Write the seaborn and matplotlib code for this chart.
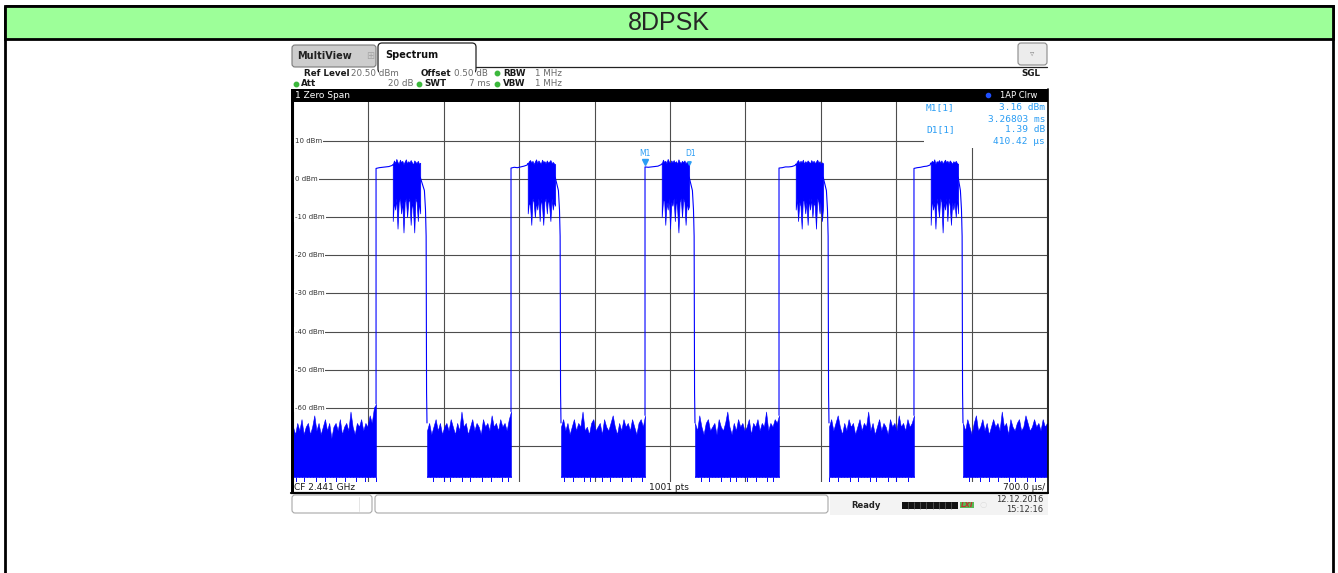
import numpy as np
import pandas as pd
import matplotlib
matplotlib.use('Agg')
import matplotlib.pyplot as plt
from matplotlib.patches import Rectangle, FancyBboxPatch
from matplotlib.ticker import MultipleLocator
import seaborn as sns

sns.set_theme(style='white')
plt.rcParams['font.family'] = ['DejaVu Sans']

W, H = 1338, 573

# zero span sweep, 7 ms, values in dBm
grid_db = [10, 0, -10, -20, -30, -40, -50, -60, -70]

noise_start_ms = [0.0, 1.244, 2.488, 3.732, 4.976, 6.220]
noise_end_ms = [0.771, 2.024, 3.268, 4.512, 5.765, 7.0]
noise_floor_db = -78.2

noise_top = [
    [-65, -67, -64, -66, -63, -67, -65, -64, -67, -65, -62, -66, -64, -67, -65, -63, -66, -64, -68, -65,
     -64, -66, -63, -67, -65, -64, -66, -61, -65, -67, -64, -65, -63, -66, -64, -65, -62, -64, -60, -59],
    [-66, -64, -67, -65, -63, -66, -64, -67, -65, -64, -66, -63, -65, -67, -64, -66, -61, -65, -64, -67,
     -65, -63, -66, -64, -65, -67, -63, -65, -64, -66, -62, -65, -64, -66, -63, -65, -64, -66, -63, -61],
    [-65, -63, -66, -64, -67, -65, -63, -66, -64, -65, -61, -66, -65, -67, -64, -63, -66, -65, -64, -67,
     -63, -65, -66, -64, -62, -65, -67, -64, -66, -63, -65, -64, -66, -63, -65, -67, -64, -63, -65, -62],
    [-64, -66, -62, -65, -67, -64, -63, -66, -65, -64, -67, -63, -65, -66, -64, -61, -65, -67, -64, -66,
     -63, -65, -64, -66, -65, -63, -67, -64, -65, -63, -66, -64, -65, -61, -66, -64, -65, -63, -64, -62],
    [-65, -63, -66, -64, -62, -65, -67, -64, -66, -63, -65, -64, -67, -65, -63, -66, -64, -65, -61, -66,
     -64, -67, -65, -63, -66, -64, -65, -67, -63, -65, -64, -66, -62, -65, -64, -66, -63, -65, -64, -62],
    [-64, -66, -63, -65, -67, -64, -62, -66, -65, -63, -66, -64, -67, -65, -63, -65, -64, -66, -61, -65,
     -64, -67, -63, -65, -66, -64, -63, -66, -65, -62, -64, -66, -65, -63, -65, -64, -66, -63, -65, -64],
]
# short drops of the noise trace below the dense band
noise_low = [
    [-78, -80, -78, -78, -80, -78, -78, -78, -80, -78, -78, -80, -78, -78, -78, -80, -78, -78, -80, -78,
     -78, -78, -80, -78, -78, -80, -78, -78, -78, -80],
    [-78, -78, -80, -78, -78, -78, -80, -78, -80, -78, -78, -78, -80, -78, -78, -80, -78, -78, -78, -80,
     -78, -78, -80, -78, -78, -78, -80, -78, -80, -78],
    [-78, -80, -78, -78, -80, -78, -78, -78, -80, -78, -80, -78, -78, -78, -80, -78, -78, -80, -78, -78,
     -78, -80, -78, -78, -80, -78, -78, -78, -80, -78],
    [-78, -78, -80, -78, -78, -80, -78, -78, -78, -80, -78, -78, -80, -78, -80, -78, -78, -78, -80, -78,
     -78, -80, -78, -78, -78, -80, -78, -80, -78, -78],
    [-80, -78, -78, -80, -78, -78, -78, -80, -78, -78, -80, -78, -78, -78, -80, -78, -80, -78, -78, -78,
     -80, -78, -78, -80, -78, -78, -78, -80, -78, -78],
    [-78, -78, -80, -78, -78, -78, -80, -78, -78, -80, -78, -78, -80, -78, -78, -78, -80, -78, -80, -78,
     -78, -78, -80, -78, -78, -80, -78, -78, -78, -80],
]

# burst: ramp (flat part), then modulated payload, then tail
burst_flat_db = [
    [2.8, 3.0, 3.1, 3.2, 3.3, 3.6],
    [2.9, 3.1, 3.0, 3.2, 3.4, 3.7],
    [3.2, 3.1, 3.2, 3.3, 3.4, 3.8],
    [2.9, 3.0, 3.2, 3.2, 3.3, 3.6],
    [2.8, 3.0, 3.1, 3.3, 3.4, 3.7],
]
mod_top_db = [
    [3.8, 4.9, 4.2, 5.3, 4.5, 4.0, 5.1, 4.4, 4.8, 3.9, 4.6, 5.2, 4.1, 4.7, 4.3, 5.0, 4.4, 3.8, 4.9, 4.5, 4.2, 4.8, 4.0, 4.3],
    [4.1, 4.7, 5.0, 4.3, 4.8, 3.9, 4.6, 5.2, 4.2, 4.9, 4.4, 4.0, 5.1, 4.5, 4.7, 4.1, 4.9, 4.3, 4.6, 5.0, 4.2, 4.5, 4.1, 3.9],
    [4.0, 5.1, 4.5, 4.8, 4.2, 5.3, 4.6, 4.1, 4.9, 4.4, 5.0, 4.3, 4.7, 4.0, 5.2, 4.5, 4.2, 4.8, 4.4, 4.9, 4.1, 4.6, 4.3, 4.0],
    [3.9, 4.6, 5.0, 4.2, 4.8, 4.4, 5.1, 4.0, 4.7, 4.3, 4.9, 4.5, 4.1, 5.0, 4.4, 4.8, 4.2, 4.6, 5.1, 4.3, 4.7, 4.0, 4.4, 4.1],
    [4.2, 4.8, 4.4, 5.2, 4.0, 4.7, 4.5, 5.0, 4.3, 4.9, 4.1, 4.6, 5.1, 4.4, 4.8, 4.2, 4.9, 4.5, 4.0, 4.7, 4.3, 4.8, 4.2, 4.0],
]
mod_bottom_db = [
    [-11, -6, -8, -5, -13, -6, -5, -9, -6, -14, -6, -5, -10, -6, -5, -12, -6, -8, -14, -5, -6, -11, -6, -9],
    [-9, -6, -7, -12, -5, -6, -10, -6, -8, -5, -11, -5, -7, -12, -6, -5, -9, -5, -7, -11, -5, -8, -6, -7],
    [-10, -6, -5, -12, -6, -8, -5, -13, -6, -7, -5, -11, -5, -8, -14, -6, -5, -10, -5, -6, -12, -6, -8, -7],
    [-8, -5, -11, -6, -7, -13, -5, -6, -9, -6, -12, -5, -8, -5, -10, -6, -7, -13, -5, -6, -9, -5, -11, -7],
    [-12, -5, -8, -6, -13, -5, -7, -10, -5, -6, -14, -6, -8, -5, -11, -5, -7, -12, -6, -8, -6, -10, -5, -9],
]
flat_len_ms = 0.15
mod_start_ms = 0.155
mod_end_ms = 0.41
tail_before_fall_ms = [0.024, 0.014, 0.008, 0.004, 0.0]
tail_db = [-3, -8, -15, -56, -64]

m1_t, m1_db = 3.26803, 3.16
d1_dt, d1_ddb = 0.41042, 1.39

trace = '#0000ff'
mcol = '#2a9df4'

fig = plt.figure(figsize=(W / 100, H / 100), dpi=100)
ax = fig.add_axes([293 / W, 1 - 482 / H, 754 / W, 381 / H])
ax.set_facecolor('white')

# noise floor between bursts
for i in range(len(noise_top)):
    tt = np.linspace(noise_start_ms[i], noise_end_ms[i], len(noise_top[i]))
    ax.fill_between(tt, noise_floor_db, noise_top[i], color=trace, lw=0.4, zorder=2)
    tl = np.linspace(noise_start_ms[i], noise_end_ms[i], len(noise_low[i]))
    ax.vlines(tl, noise_floor_db, noise_low[i], color=trace, lw=0.7, zorder=2)

# bursts
rows = []
for k in range(len(burst_flat_db)):
    t0 = noise_end_ms[k]
    t1 = noise_start_ms[k + 1]
    tm = np.linspace(t0 + mod_start_ms, t0 + mod_end_ms, len(mod_top_db[k]))
    ax.fill_between(tm, mod_bottom_db[k], mod_top_db[k], color=trace, lw=0.5, zorder=2)
    pts = [(t0, noise_top[k][-1]), (t0, burst_flat_db[k][0])]
    tf = np.linspace(t0, t0 + flat_len_ms, len(burst_flat_db[k]))
    pts += list(zip(tf, burst_flat_db[k]))
    pts += [(tm[0], mod_top_db[k][0])]
    pts += [(tm[-1], 0.5)]
    pts += [(t1 - dt, v) for dt, v in zip(tail_before_fall_ms, tail_db)]
    for t, v in pts:
        rows.append({'burst': k, 't': t, 'db': v})
df = pd.DataFrame(rows)
sns.lineplot(data=df, x='t', y='db', units='burst', estimator=None, sort=False,
             color=trace, lw=0.8, ax=ax, zorder=3)

ax.set_xlim(0, 7.0)
ax.set_ylim(-79.5, 20.5)
ax.xaxis.set_major_locator(MultipleLocator(0.7))
ax.set_yticks(grid_db)
ax.set_axisbelow(True)
ax.grid(True, color='#4d4d4d', lw=0.8)
ax.tick_params(length=0, labelbottom=False, labelleft=False)
ax.set_xlabel('')
ax.set_ylabel('')
for s in ax.spines.values():
    s.set_visible(False)

for v in grid_db:
    ax.text(0.002, v, f'{v} dBm', transform=ax.get_yaxis_transform(), fontsize=5,
            va='center', ha='left', color='#333333', zorder=1.5,
            bbox=dict(fc='white', ec='none', pad=1.0))

# markers
ax.plot([m1_t], [m1_db + 1.2], marker='v', ms=4, color=mcol, zorder=5)
ax.text(m1_t, m1_db + 2.3, 'M1', fontsize=5.5, ha='center', va='bottom', color=mcol, zorder=5)
ax.plot([m1_t + d1_dt], [m1_db + d1_ddb - 0.2], marker='v', ms=2.5, color=mcol, zorder=5)
ax.text(m1_t + d1_dt + 0.01, m1_db + 2.3, 'D1', fontsize=5.5, ha='center', va='bottom',
        color=mcol, zorder=5)

# overlay in screen pixels
ov = fig.add_axes([0, 0, 1, 1], zorder=5)
ov.set_xlim(0, W)
ov.set_ylim(H, 0)
ov.axis('off')

ov.add_patch(Rectangle((5, 6), 1328, 600, fill=False, ec='black', lw=2))
ov.add_patch(Rectangle((5, 6), 1328, 33, fc='#9dff99', ec='black', lw=2))
ov.text(669, 23, '8DPSK', ha='center', va='center', fontsize=18, family='Liberation Sans')

# tabs
ov.add_patch(FancyBboxPatch((292, 45), 84, 22, boxstyle='round,pad=0,rounding_size=3',
                            fc='#cdcdcd', ec='#7a7a7a', lw=0.8))
ov.text(297, 56, 'MultiView', fontsize=7, weight='bold', va='center', color='#222222')
ov.text(370, 56, '\u229e', fontsize=7, va='center', ha='center', color='#a5a5a5')
ov.add_patch(FancyBboxPatch((378, 43), 98, 30, boxstyle='round,pad=0,rounding_size=4',
                            fc='white', ec='#222222', lw=0.9))
ov.add_patch(Rectangle((378.6, 64), 96.8, 12, fc='white', ec='none'))
ov.plot([476, 1047], [66.5, 66.5], color='#222222', lw=0.9)
ov.text(385, 55, 'Spectrum', fontsize=7, weight='bold', va='center', color='#111111')
ov.add_patch(FancyBboxPatch((1018, 43), 29, 22, boxstyle='round,pad=0,rounding_size=3',
                            fc='#ececec', ec='#8a8a8a', lw=0.8))
ov.text(1032.5, 53, '\u25bf', fontsize=6, ha='center', va='center', color='#8a8a8a')

# settings rows
lab = dict(fontsize=6.3, weight='bold', va='center', color='#1a1a1a')
val = dict(fontsize=6.3, va='center', color='#6a6a6a')
dot = dict(marker='o', ms=3.2, color='#3cb83c', ls='none')
ov.text(304, 73, 'Ref Level', **lab)
ov.text(351, 73, '20.50 dBm', **val)
ov.text(421, 73, 'Offset', **lab)
ov.text(454, 73, '0.50 dB', **val)
ov.plot([497], [73], **dot)
ov.text(503, 73, 'RBW', **lab)
ov.text(535, 73, '1 MHz', **val)
ov.text(1040, 73, 'SGL', ha='right', fontsize=6.3, weight='bold', va='center', color='#1a1a1a')
ov.plot([296], [83.5], **dot)
ov.text(301, 83.5, 'Att', **lab)
ov.text(414, 83.5, '20 dB', ha='right', **val)
ov.plot([418.5], [83.5], **dot)
ov.text(424, 83.5, 'SWT', **lab)
ov.text(490, 83.5, '7 ms', ha='right', **val)
ov.plot([497], [83.5], **dot)
ov.text(503, 83.5, 'VBW', **lab)
ov.text(535, 83.5, '1 MHz', **val)

# window title bar and frame
ov.add_patch(Rectangle((291, 89), 757, 12.5, fc='black', ec='none'))
ov.text(295, 95.5, '1 Zero Span', fontsize=6.5, color='white', va='center')
ov.plot([988], [95.3], marker='o', ms=3, color='#2050ff')
ov.text(1037, 95.5, '1AP Clrw', fontsize=6, color='white', va='center', ha='right')
ov.add_patch(Rectangle((290.5, 89), 3.5, 404, fc='black', ec='none'))
ov.plot([1047.5, 1047.5], [89, 493], color='black', lw=1.2)
ov.plot([291, 1048], [492.5, 492.5], color='black', lw=1.6)

# marker readout
ov.add_patch(Rectangle((924, 101.5), 123, 46, fc='white', ec='none'))
mono = dict(fontsize=6.8, family='DejaVu Sans Mono', color=mcol, va='center')
ov.text(926, 108, 'M1[1]', **mono)
ov.text(1045, 108, '3.16 dBm', ha='right', **mono)
ov.text(1045, 119, '3.26803 ms', ha='right', **mono)
ov.text(926, 130, 'D1[1]', **mono)
ov.text(1045, 130, '1.39 dB', ha='right', **mono)
ov.text(1045, 141.5, '410.42 \u00b5s', ha='right', **mono)

# bottom scale line
ov.text(294, 487.5, 'CF 2.441 GHz', fontsize=6.5, va='center', color='#1a1a1a')
ov.text(669, 487.5, '1001 pts', fontsize=6.5, va='center', ha='center', color='#1a1a1a')
ov.text(1045, 487.5, '700.0 \u00b5s/', fontsize=6.5, va='center', ha='right', color='#1a1a1a')

# status bar
ov.add_patch(Rectangle((830, 494), 218, 21, fc='#f3f3f3', ec='none'))
ov.add_patch(FancyBboxPatch((292, 495), 80, 18, boxstyle='round,pad=0,rounding_size=3',
                            fc='white', ec='#a8a8a8', lw=0.8))
ov.plot([359, 359], [497, 511], color='#e0e0e0', lw=0.6)
ov.add_patch(FancyBboxPatch((375, 495), 453, 18, boxstyle='round,pad=0,rounding_size=3',
                            fc='white', ec='#a8a8a8', lw=0.8))
ov.text(851, 505, 'Ready', fontsize=6, weight='bold', va='center', color='#222222')
ov.add_patch(Rectangle((902, 501.5), 56, 7, fc='#111111', ec='none'))
for xs in [908, 914, 920, 926, 933, 939, 945, 951]:
    ov.plot([xs, xs], [501.5, 508.5], color='#777777', lw=0.4)
ov.text(967, 505, 'LXI', fontsize=5, style='italic', weight='bold', va='center', ha='center',
        color='#c03030', bbox=dict(fc='#55bb55', ec='none', pad=0.3))
ov.text(983, 505, '\u25cb', fontsize=6, va='center', ha='center', color='#dddddd')
ov.text(1043, 499, '12.12.2016', fontsize=6, va='center', ha='right', color='#333333')
ov.text(1043, 509.5, '15:12:16', fontsize=6, va='center', ha='right', color='#333333')

fig.savefig('out.png', dpi=100, facecolor='white')
